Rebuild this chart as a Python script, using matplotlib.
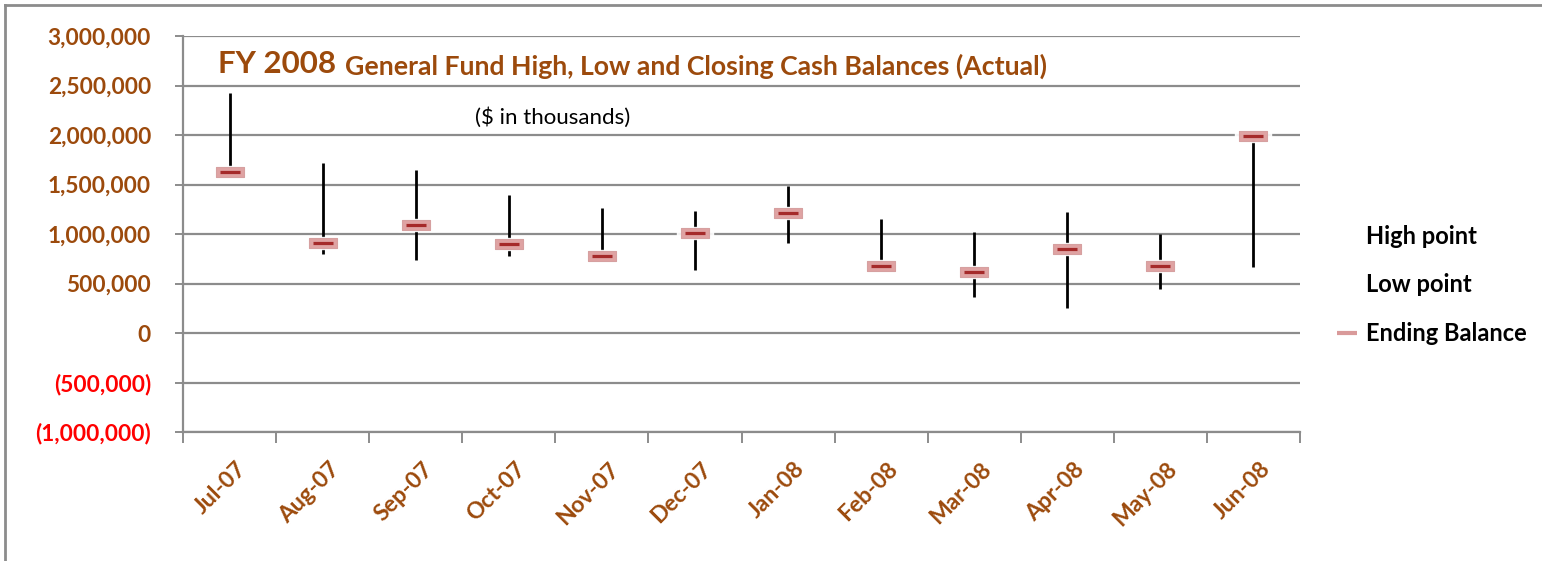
import matplotlib
matplotlib.use("Agg")
import matplotlib.pyplot as plt
import matplotlib.transforms as mtransforms
from matplotlib.path import Path
from matplotlib.lines import Line2D

months = ["Jul-07", "Aug-07", "Sep-07", "Oct-07", "Nov-07", "Dec-07",
          "Jan-08", "Feb-08", "Mar-08", "Apr-08", "May-08", "Jun-08"]
high = [2425000, 1717000, 1646000, 1394000, 1263000, 1230000,
        1485000, 1152000, 1020000, 1222000, 1000000, 1995000]
low = [1620000, 798000, 737000, 778000, 775000, 636000,
       906000, 675000, 367000, 256000, 444000, 670000]
close = [1626000, 909000, 1090000, 900000, 780000, 1010000,
         1212000, 680000, 620000, 852000, 680000, 1990000]
yticks = [-1000000, -500000, 0, 500000, 1000000, 1500000, 2000000, 2500000, 3000000]

BROWN = "#9C4A0C"
FONT = ["Lato", "DejaVu Sans"]
plt.rcParams['font.family'] = FONT

fig = plt.figure(figsize=(15.42, 5.61), dpi=100)
ax = fig.add_axes([183/1542, 1-432/561, (1300-183)/1542, (432-36)/561])

x = list(range(len(months)))
ax.set_xlim(-0.5, len(months)-0.5)
ax.set_ylim(-1000000, 3000000)

# gridlines
ax.set_yticks(yticks)
ax.yaxis.grid(True, color="#8c8c8c", linewidth=1.6)
ax.set_axisbelow(True)

# high-low lines
ax.vlines(x, low, high, colors="black", linewidth=2, zorder=3)

# marker shapes
rect = Path([(-1.4, -0.5), (1.4, -0.5), (1.4, 0.5), (-1.4, 0.5), (-1.4, -0.5)],
            [Path.MOVETO, Path.LINETO, Path.LINETO, Path.LINETO, Path.CLOSEPOLY])
ax.plot(x, close, linestyle="none", marker=rect, markersize=26,
        markerfacecolor="white", markeredgecolor="white", alpha=0.9, zorder=4)
ax.plot(x, close, linestyle="none", marker=rect, markersize=20,
        markerfacecolor="#DFA3A3", markeredgecolor="#D6A0A0", markeredgewidth=0.8, zorder=5)
ax.plot(x, close, linestyle="none", marker="_", markersize=14.5,
        markeredgecolor="#A52A2A", markeredgewidth=2.3, zorder=6)

# spines
for s in ["top", "right"]:
    ax.spines[s].set_visible(False)
for s in ["left", "bottom"]:
    ax.spines[s].set_color("#8c8c8c")
    ax.spines[s].set_linewidth(1.6)
ax.spines["bottom"].set_position(("data", -1000000))

# y tick labels
ax.tick_params(axis="y", length=6, width=1.4, color="#8c8c8c", pad=17)
ylabels = []
for v in yticks:
    if v < 0:
        ylabels.append("({:,})".format(-v))
    else:
        ylabels.append("{:,}".format(v))
ax.set_yticklabels(ylabels, fontsize=16.3, fontweight="bold")
for lab, v in zip(ax.get_yticklabels(), yticks):
    lab.set_color("#FF0000" if v < 0 else BROWN)

# x ticks: category boundaries, labels centered
ax.set_xticks([i - 0.5 for i in range(len(months)+1)])
ax.set_xticklabels([])
ax.tick_params(axis="x", length=8, width=1.4, color="#8c8c8c", direction="out")
ax.set_xticks(x, minor=True)
ax.set_xticklabels(months, minor=True, rotation=45, ha="right", rotation_mode="anchor",
                   fontsize=16.5, fontweight="bold", color=BROWN)
ax.tick_params(axis="x", which="minor", length=0, pad=19)
offset = mtransforms.ScaledTranslation(6/100, 0, fig.dpi_scale_trans)
for lab in ax.get_xticklabels(minor=True):
    lab.set_transform(lab.get_transform() + offset)

# titles
fig.text(218/1542, 1-64/561, "FY 2008", fontsize=22.5, fontweight="bold", color=BROWN,
         va="center", ha="left")
fig.text(345/1542, 1-66/561, "General Fund High, Low and Closing Cash Balances (Actual)",
         fontsize=19.2, fontweight="bold", color=BROWN, va="center", ha="left")
fig.text(553/1542, 1-118/561, "($ in thousands)", fontsize=16, color="black",
         va="center", ha="center")

# legend
handles = [Line2D([], [], linestyle="none", marker=None),
           Line2D([], [], linestyle="none", marker=None),
           Line2D([], [], linestyle="none", marker="_", markersize=14,
                  markeredgecolor="#D99A9A", markeredgewidth=3)]
leg = fig.legend(handles, ["High point", "Low point", "Ending Balance"],
                 loc="center left", bbox_to_anchor=(1315/1542, 1-285/561),
                 frameon=False, prop={"family": FONT, "weight": "bold", "size": 17},
                 handlelength=0.9, handletextpad=0.35, labelspacing=1.08)

# figure border (top and left)
fig.add_artist(Line2D([5/1542, 5/1542], [0, 1-5/561], transform=fig.transFigure,
                      color="#8c8c8c", linewidth=2))
fig.add_artist(Line2D([5/1542, 1], [1-5/561, 1-5/561], transform=fig.transFigure,
                      color="#8c8c8c", linewidth=2))

fig.savefig("out.png", dpi=100, facecolor="white")
